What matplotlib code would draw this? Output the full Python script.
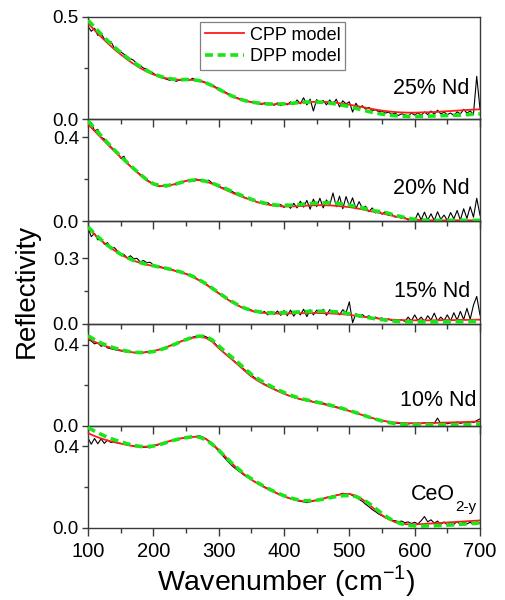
import numpy as np
import matplotlib.pyplot as plt
from matplotlib.ticker import FormatStrFormatter

plt.rcParams['font.family'] = ['Liberation Sans', 'DejaVu Sans']

# wavenumber grids (cm^-1): fits every 10, measured spectra every 5
wn_fit = np.arange(100, 701, 10)
wn_exp = np.arange(100, 701, 5)

# ---- 25% Nd ----
exp_25 = [0.455, 0.430, 0.445, 0.410, 0.420, 0.392, 0.375, 0.380, 0.350, 0.340, 0.330, 0.318, 0.305, 0.296, 0.288,
          0.270, 0.262, 0.250, 0.245, 0.232, 0.225, 0.213, 0.205, 0.200, 0.196, 0.190, 0.194, 0.185, 0.192, 0.188,
          0.198, 0.190, 0.200, 0.192, 0.190, 0.186, 0.180, 0.172, 0.168, 0.158, 0.150, 0.140, 0.133, 0.124, 0.117,
          0.108, 0.103, 0.096, 0.092, 0.088, 0.085, 0.079, 0.082, 0.072, 0.080, 0.070, 0.078, 0.068, 0.080, 0.066,
          0.078, 0.070, 0.085, 0.072, 0.094, 0.075, 0.105, 0.070, 0.098, 0.040, 0.096, 0.078, 0.092, 0.070, 0.094,
          0.072, 0.098, 0.060, 0.090, 0.075, 0.085, 0.035, 0.078, 0.055, 0.066, 0.048, 0.058, 0.042, 0.046, 0.036,
          0.040, 0.030, 0.034, 0.024, 0.030, 0.018, 0.026, 0.022, 0.014, 0.030, 0.020, 0.032, 0.018, 0.036, 0.022,
          0.040, 0.024, 0.044, 0.026, 0.034, 0.022, 0.030, 0.018, 0.036, 0.026, 0.048, 0.030, 0.040, 0.024, 0.210,
          0.050]
cpp_25 = [0.470, 0.435, 0.403, 0.372, 0.343, 0.317, 0.292, 0.270, 0.250, 0.233, 0.219, 0.208, 0.200, 0.195, 0.193,
          0.193, 0.192, 0.188, 0.178, 0.163, 0.146, 0.129, 0.113, 0.100, 0.090, 0.083, 0.078, 0.075, 0.073, 0.073,
          0.074, 0.076, 0.079, 0.082, 0.084, 0.085, 0.085, 0.083, 0.080, 0.076, 0.071, 0.065, 0.059, 0.053, 0.047,
          0.042, 0.038, 0.035, 0.033, 0.032, 0.032, 0.033, 0.034, 0.035, 0.037, 0.039, 0.041, 0.043, 0.045, 0.047,
          0.048]
dpp_25 = [0.485, 0.450, 0.416, 0.384, 0.354, 0.327, 0.301, 0.278, 0.257, 0.238, 0.222, 0.210, 0.201, 0.196, 0.194,
          0.194, 0.193, 0.189, 0.179, 0.164, 0.147, 0.130, 0.114, 0.101, 0.091, 0.084, 0.079, 0.076, 0.074, 0.074,
          0.075, 0.077, 0.080, 0.083, 0.084, 0.084, 0.082, 0.079, 0.074, 0.068, 0.061, 0.053, 0.045, 0.037, 0.030,
          0.025, 0.020, 0.017, 0.015, 0.014, 0.014, 0.014, 0.015, 0.016, 0.017, 0.018, 0.019, 0.020, 0.022, 0.024,
          0.026]

# ---- 20% Nd ----
exp_20 = [0.455, 0.470, 0.430, 0.438, 0.400, 0.392, 0.372, 0.355, 0.340, 0.330, 0.300, 0.310, 0.278, 0.262, 0.252,
          0.236, 0.224, 0.210, 0.199, 0.188, 0.180, 0.170, 0.165, 0.172, 0.164, 0.172, 0.176, 0.174, 0.184, 0.186,
          0.192, 0.198, 0.194, 0.202, 0.196, 0.200, 0.192, 0.196, 0.182, 0.176, 0.170, 0.160, 0.158, 0.148, 0.143,
          0.135, 0.128, 0.121, 0.114, 0.108, 0.100, 0.098, 0.090, 0.088, 0.082, 0.090, 0.076, 0.084, 0.070, 0.080,
          0.066, 0.082, 0.062, 0.086, 0.064, 0.096, 0.068, 0.100, 0.058, 0.106, 0.070, 0.110, 0.064, 0.102, 0.078,
          0.135, 0.070, 0.120, 0.060, 0.118, 0.074, 0.112, 0.060, 0.094, 0.062, 0.072, 0.046, 0.064, 0.040, 0.052,
          0.034, 0.046, 0.028, 0.034, 0.020, 0.026, 0.014, 0.018, 0.006, 0.014, 0.004, 0.040, 0.008, 0.044, 0.006,
          0.036, 0.004, 0.046, 0.010, 0.030, 0.004, 0.042, 0.012, 0.052, 0.006, 0.060, 0.014, 0.070, 0.020, 0.110,
          0.030]
cpp_20 = [0.462, 0.430, 0.398, 0.366, 0.335, 0.305, 0.276, 0.248, 0.220, 0.195, 0.176, 0.168, 0.169, 0.175, 0.184,
          0.193, 0.197, 0.196, 0.190, 0.179, 0.165, 0.151, 0.137, 0.124, 0.112, 0.101, 0.091, 0.083, 0.077, 0.073,
          0.071, 0.071, 0.072, 0.074, 0.076, 0.077, 0.077, 0.076, 0.074, 0.071, 0.068, 0.063, 0.057, 0.050, 0.044,
          0.038, 0.031, 0.024, 0.017, 0.011, 0.008, 0.006, 0.005, 0.005, 0.005, 0.005, 0.005, 0.005, 0.005, 0.005,
          0.005]
dpp_20 = [0.478, 0.443, 0.408, 0.374, 0.341, 0.310, 0.280, 0.251, 0.224, 0.198, 0.179, 0.170, 0.170, 0.175, 0.183,
          0.191, 0.196, 0.196, 0.191, 0.182, 0.170, 0.157, 0.143, 0.130, 0.117, 0.105, 0.095, 0.087, 0.081, 0.077,
          0.076, 0.077, 0.079, 0.082, 0.085, 0.087, 0.088, 0.088, 0.086, 0.082, 0.077, 0.071, 0.064, 0.056, 0.049,
          0.046, 0.038, 0.030, 0.022, 0.015, 0.010, 0.007, 0.005, 0.005, 0.005, 0.005, 0.005, 0.005, 0.005, 0.005,
          0.005]

# ---- 15% Nd ----
exp_15 = [0.440, 0.400, 0.415, 0.385, 0.392, 0.365, 0.372, 0.345, 0.350, 0.335, 0.322, 0.318, 0.302, 0.312, 0.298,
          0.300, 0.284, 0.290, 0.280, 0.282, 0.270, 0.266, 0.262, 0.258, 0.255, 0.250, 0.247, 0.242, 0.238, 0.234,
          0.230, 0.224, 0.218, 0.210, 0.200, 0.192, 0.184, 0.172, 0.164, 0.150, 0.142, 0.128, 0.122, 0.108, 0.102,
          0.090, 0.084, 0.074, 0.072, 0.062, 0.063, 0.052, 0.058, 0.046, 0.056, 0.040, 0.055, 0.042, 0.058, 0.038,
          0.060, 0.036, 0.062, 0.034, 0.058, 0.040, 0.066, 0.032, 0.064, 0.040, 0.062, 0.046, 0.066, 0.038, 0.064,
          0.046, 0.060, 0.040, 0.064, 0.050, 0.100, 0.004, 0.046, 0.030, 0.042, 0.028, 0.036, 0.024, 0.030, 0.022,
          0.026, 0.016, 0.022, 0.014, 0.020, 0.012, 0.018, 0.010, 0.030, 0.012, 0.040, 0.014, 0.030, 0.010, 0.036,
          0.016, 0.048, 0.012, 0.030, 0.014, 0.040, 0.012, 0.050, 0.016, 0.056, 0.018, 0.070, 0.020, 0.085, 0.125,
          0.040]
cpp_15 = [0.440, 0.410, 0.383, 0.358, 0.337, 0.318, 0.302, 0.289, 0.279, 0.271, 0.265, 0.259, 0.252, 0.245, 0.237,
          0.228, 0.215, 0.199, 0.181, 0.160, 0.139, 0.118, 0.099, 0.082, 0.069, 0.059, 0.053, 0.049, 0.047, 0.046,
          0.046, 0.047, 0.048, 0.048, 0.049, 0.049, 0.048, 0.047, 0.045, 0.043, 0.040, 0.036, 0.032, 0.028, 0.025,
          0.022, 0.019, 0.017, 0.016, 0.015, 0.015, 0.015, 0.015, 0.015, 0.016, 0.016, 0.016, 0.017, 0.017, 0.018,
          0.018]
dpp_15 = [0.445, 0.414, 0.386, 0.360, 0.338, 0.319, 0.303, 0.290, 0.280, 0.272, 0.266, 0.260, 0.254, 0.247, 0.239,
          0.230, 0.218, 0.202, 0.184, 0.163, 0.142, 0.121, 0.102, 0.085, 0.071, 0.061, 0.055, 0.051, 0.049, 0.049,
          0.050, 0.051, 0.053, 0.055, 0.056, 0.057, 0.057, 0.056, 0.054, 0.050, 0.045, 0.039, 0.033, 0.027, 0.022,
          0.018, 0.014, 0.011, 0.009, 0.008, 0.008, 0.008, 0.008, 0.008, 0.008, 0.008, 0.009, 0.009, 0.009, 0.010,
          0.010]

# ---- 10% Nd ----
exp_10 = [0.425, 0.418, 0.404, 0.410, 0.392, 0.398, 0.384, 0.380, 0.376, 0.372, 0.370, 0.366, 0.364, 0.362, 0.361,
          0.358, 0.362, 0.360, 0.366, 0.364, 0.370, 0.372, 0.378, 0.382, 0.388, 0.394, 0.402, 0.408, 0.414, 0.420,
          0.426, 0.432, 0.437, 0.441, 0.444, 0.446, 0.440, 0.432, 0.420, 0.404, 0.386, 0.370, 0.356, 0.342, 0.330,
          0.316, 0.302, 0.290, 0.276, 0.262, 0.250, 0.238, 0.226, 0.216, 0.206, 0.198, 0.190, 0.182, 0.174, 0.166,
          0.160, 0.152, 0.146, 0.140, 0.136, 0.130, 0.127, 0.124, 0.124, 0.118, 0.117, 0.112, 0.112, 0.106, 0.102,
          0.098, 0.094, 0.089, 0.084, 0.079, 0.074, 0.069, 0.064, 0.058, 0.053, 0.048, 0.043, 0.038, 0.034, 0.030,
          0.026, 0.022, 0.019, 0.016, 0.014, 0.012, 0.010, 0.014, 0.009, 0.012, 0.008, 0.013, 0.010, 0.016, 0.008,
          0.014, 0.012, 0.038, 0.010, 0.016, 0.010, 0.014, 0.012, 0.018, 0.012, 0.016, 0.014, 0.020, 0.016, 0.026,
          0.034]
cpp_10 = [0.431, 0.415, 0.400, 0.390, 0.380, 0.372, 0.366, 0.362, 0.361, 0.363, 0.368, 0.376, 0.387, 0.400, 0.413,
          0.425, 0.434, 0.438, 0.434, 0.415, 0.383, 0.355, 0.328, 0.300, 0.271, 0.243, 0.222, 0.203, 0.187, 0.172,
          0.158, 0.146, 0.136, 0.128, 0.121, 0.114, 0.107, 0.099, 0.091, 0.082, 0.073, 0.063, 0.053, 0.043, 0.034,
          0.026, 0.020, 0.016, 0.014, 0.013, 0.013, 0.013, 0.014, 0.014, 0.015, 0.016, 0.017, 0.018, 0.019, 0.020,
          0.021]
dpp_10 = [0.444, 0.425, 0.408, 0.395, 0.384, 0.375, 0.368, 0.363, 0.361, 0.362, 0.366, 0.374, 0.385, 0.398, 0.412,
          0.425, 0.436, 0.442, 0.440, 0.424, 0.394, 0.366, 0.339, 0.311, 0.282, 0.254, 0.232, 0.212, 0.195, 0.179,
          0.164, 0.151, 0.140, 0.131, 0.124, 0.117, 0.110, 0.102, 0.094, 0.085, 0.075, 0.065, 0.054, 0.043, 0.033,
          0.024, 0.017, 0.011, 0.008, 0.006, 0.005, 0.005, 0.005, 0.005, 0.005, 0.005, 0.005, 0.006, 0.006, 0.007,
          0.008]

# ---- CeO2-y ----
exp_ce = [0.440, 0.410, 0.438, 0.412, 0.436, 0.414, 0.430, 0.418, 0.422, 0.416, 0.414, 0.410, 0.408, 0.404, 0.402,
          0.400, 0.398, 0.394, 0.396, 0.392, 0.402, 0.404, 0.410, 0.414, 0.420, 0.424, 0.430, 0.432, 0.437, 0.440,
          0.442, 0.444, 0.446, 0.448, 0.452, 0.446, 0.438, 0.426, 0.410, 0.394, 0.376, 0.358, 0.340, 0.322, 0.306,
          0.292, 0.280, 0.268, 0.256, 0.246, 0.236, 0.226, 0.218, 0.210, 0.202, 0.194, 0.186, 0.178, 0.170, 0.162,
          0.156, 0.148, 0.144, 0.138, 0.134, 0.130, 0.128, 0.124, 0.128, 0.132, 0.136, 0.140, 0.144, 0.150, 0.152,
          0.156, 0.160, 0.164, 0.170, 0.166, 0.168, 0.158, 0.152, 0.140, 0.130, 0.116, 0.104, 0.090, 0.080, 0.068,
          0.060, 0.050, 0.044, 0.038, 0.036, 0.030, 0.034, 0.026, 0.030, 0.022, 0.028, 0.020, 0.036, 0.056, 0.030,
          0.040, 0.024, 0.034, 0.018, 0.030, 0.014, 0.028, 0.018, 0.032, 0.016, 0.030, 0.020, 0.028, 0.018, 0.030,
          0.024]
cpp_ce = [0.464, 0.450, 0.438, 0.428, 0.420, 0.413, 0.406, 0.400, 0.397, 0.398, 0.403, 0.411, 0.421, 0.430, 0.437,
          0.442, 0.446, 0.446, 0.436, 0.413, 0.383, 0.350, 0.317, 0.287, 0.260, 0.237, 0.217, 0.199, 0.183, 0.168,
          0.155, 0.144, 0.136, 0.131, 0.131, 0.136, 0.143, 0.152, 0.160, 0.166, 0.167, 0.158, 0.140, 0.115, 0.088,
          0.063, 0.043, 0.029, 0.021, 0.018, 0.018, 0.019, 0.021, 0.023, 0.025, 0.027, 0.029, 0.031, 0.033, 0.035,
          0.037]
dpp_ce = [0.492, 0.474, 0.458, 0.444, 0.432, 0.422, 0.412, 0.404, 0.399, 0.398, 0.401, 0.408, 0.418, 0.428, 0.436,
          0.442, 0.446, 0.445, 0.433, 0.410, 0.381, 0.349, 0.318, 0.289, 0.263, 0.241, 0.221, 0.203, 0.186, 0.171,
          0.158, 0.147, 0.139, 0.134, 0.133, 0.136, 0.141, 0.148, 0.154, 0.158, 0.159, 0.154, 0.141, 0.121, 0.096,
          0.071, 0.049, 0.032, 0.020, 0.013, 0.010, 0.009, 0.010, 0.011, 0.012, 0.014, 0.016, 0.018, 0.020, 0.022,
          0.025]

sample_labels = ['25% Nd', '20% Nd', '15% Nd', '10% Nd', 'CeO']
ce_subscript = '2-y'

spectra = [(exp_25, cpp_25, dpp_25), (exp_20, cpp_20, dpp_20), (exp_15, cpp_15, dpp_15),
           (exp_10, cpp_10, dpp_10), (exp_ce, cpp_ce, dpp_ce)]

# per-panel y range, labelled tick, label anchor (right edge x, centre y in axes fraction)
y_tops = [0.5, 0.486, 0.47, 0.504, 0.5]
y_ticks = [0.5, 0.4, 0.3, 0.4, 0.4]
label_pos = [(0.974, 0.30), (0.974, 0.32), (0.974, 0.31), (0.992, 0.245), (0.936, 0.33)]

red = '#ff1a1a'
green = '#19e619'
frame = '#3a3a3a'

fig = plt.figure(figsize=(5.06, 6.0), dpi=100)
gs = fig.add_gridspec(5, 1, left=0.1739, right=0.9486, top=0.9717, bottom=0.12, hspace=0)

for i, (exp, cpp, dpp) in enumerate(spectra):
    ax = fig.add_subplot(gs[i])
    ax.set_facecolor('none')

    ax.plot(wn_exp, exp, color='black', lw=0.8, zorder=2)
    ax.plot(wn_fit, cpp, color=red, lw=1.3, zorder=3, label='CPP model')
    ax.plot(wn_fit, dpp, color=green, lw=2.6, ls=(0, (2.2, 1.3)), zorder=4, label='DPP model')

    ax.set_xlim(100, 700)
    ax.set_ylim(0, y_tops[i])
    ax.set_xticks(range(100, 701, 100))
    ax.set_xticks(range(150, 700, 100), minor=True)
    ax.set_yticks([0, y_ticks[i]])
    ax.set_yticks([y_ticks[i] / 2], minor=True)
    ax.yaxis.set_major_formatter(FormatStrFormatter('%.1f'))

    for s in ax.spines.values():
        s.set_color(frame)
        s.set_linewidth(1.0)
    ax.tick_params(axis='both', which='both', direction='out', color=frame, width=1.0,
                   top=False, right=False, labelsize=13.5)
    ax.tick_params(axis='x', which='major', length=6)
    ax.tick_params(axis='x', which='minor', length=3.5)
    ax.tick_params(axis='y', which='major', length=4.5, pad=2)
    ax.tick_params(axis='y', which='minor', length=3)
    ax.tick_params(axis='x', labelsize=14.5, pad=4, labelbottom=(i == 4))

    lx, ly = label_pos[i]
    ax.text(lx, ly, sample_labels[i], transform=ax.transAxes, ha='right', va='center', fontsize=15.5)
    if i == 4:
        # subscript of CeO2-y, drawn as its own smaller text
        ax.text(lx, 0.21, ce_subscript, transform=ax.transAxes, ha='left', va='center', fontsize=11)

    if i == 0:
        leg = ax.legend(loc='upper left', bbox_to_anchor=(0.286, 0.95), borderaxespad=0, fontsize=13,
                        handlelength=2.2, handletextpad=0.3, borderpad=0.25, labelspacing=0.25,
                        fancybox=False, framealpha=1)
        leg.get_frame().set_edgecolor('#808080')
        leg.get_frame().set_linewidth(0.9)

fig.text(27 / 506, 1 - 291 / 600, 'Reflectivity', rotation=90, ha='center', va='center', fontsize=20)
fig.text(286 / 506, 1 - 581 / 600, r'Wavenumber (cm$^{\mathregular{-1}}$)', ha='center', va='center', fontsize=20.5)

fig.savefig('out.png', dpi=100)
